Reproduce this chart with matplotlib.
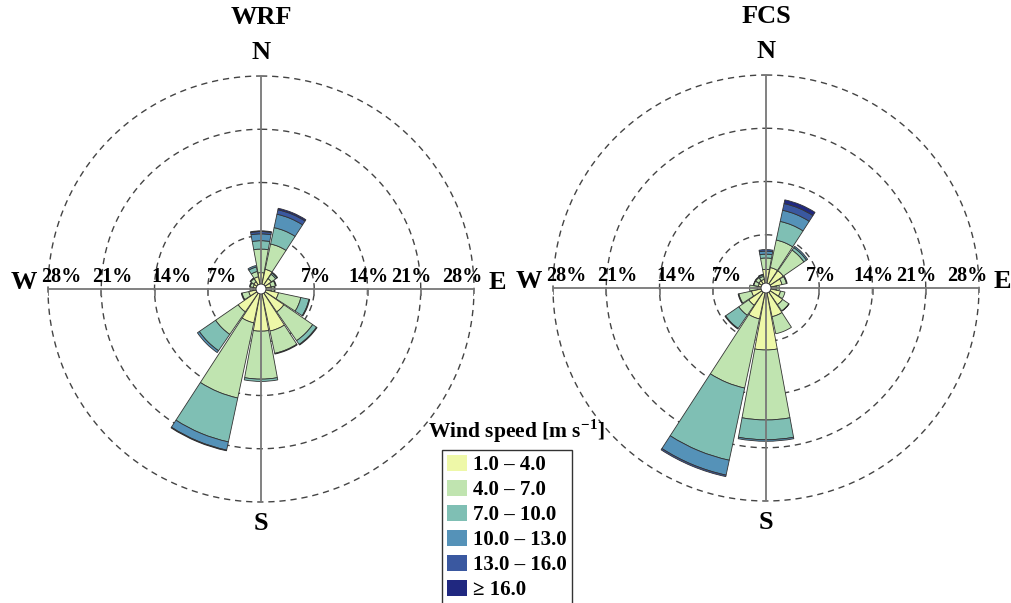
import numpy as np
import matplotlib
matplotlib.use("Agg")
import matplotlib.pyplot as plt
from matplotlib.patches import Patch

plt.rcParams['font.family'] = ['Liberation Serif', 'DejaVu Serif']
plt.rcParams['font.weight'] = 'bold'
plt.rcParams['mathtext.fontset'] = 'custom'
plt.rcParams['mathtext.rm'] = 'Liberation Serif:bold'
plt.rcParams['mathtext.bf'] = 'Liberation Serif:bold'

# 16 directions, clockwise from N
directions = ['N', 'NNE', 'NE', 'ENE', 'E', 'ESE', 'SE', 'SSE',
              'S', 'SSW', 'SW', 'WSW', 'W', 'WNW', 'NW', 'NNW']
speed_bins = ['1.0 – 4.0', '4.0 – 7.0', '7.0 – 10.0', '10.0 – 13.0',
              '13.0 – 16.0', '≥ 16.0']
colors = ['#eef8a8', '#c0e4b0', '#7fbfb4', '#5592b8', '#3a58a0', '#202880']

# frequency [%] per direction (rows) and speed class (columns)
wrf = np.array([
    [1.5, 3.1, 1.1, 0.9, 0.3, 0.1],
    [2.0, 3.4, 2.2, 1.8, 0.6, 0.2],
    [1.0, 0.7, 0.2, 0.1, 0.0, 0.0],
    [0.7, 0.6, 0.1, 0.0, 0.0, 0.0],
    [0.7, 0.4, 0.1, 0.0, 0.0, 0.0],
    [1.7, 3.0, 1.1, 0.1, 0.0, 0.0],
    [3.0, 4.6, 0.6, 0.1, 0.0, 0.0],
    [5.0, 3.0, 0.1, 0.0, 0.0, 0.0],
    [4.9, 6.3, 0.3, 0.0, 0.0, 0.0],
    [3.9, 10.1, 5.9, 1.1, 0.1, 0.0],
    [3.0, 3.6, 2.6, 0.3, 0.0, 0.0],
    [1.0, 0.9, 0.1, 0.0, 0.0, 0.0],
    [0.4, 0.4, 0.0, 0.0, 0.0, 0.0],
    [0.4, 0.4, 0.1, 0.0, 0.0, 0.0],
    [0.5, 0.5, 0.1, 0.0, 0.0, 0.0],
    [1.0, 0.7, 0.6, 0.2, 0.0, 0.0],
])
fcs = np.array([
    [1.8, 1.5, 0.5, 0.4, 0.2, 0.0],
    [2.1, 3.7, 2.5, 1.5, 0.9, 0.5],
    [2.1, 3.3, 0.4, 0.2, 0.0, 0.0],
    [1.5, 0.6, 0.1, 0.0, 0.0, 0.0],
    [0.7, 0.4, 0.0, 0.0, 0.0, 0.0],
    [1.3, 0.6, 0.0, 0.0, 0.0, 0.0],
    [2.0, 1.0, 0.05, 0.0, 0.0, 0.0],
    [3.2, 2.3, 0.0, 0.0, 0.0, 0.0],
    [7.5, 9.2, 2.6, 0.2, 0.0, 0.0],
    [3.5, 9.3, 9.7, 2.0, 0.2, 0.0],
    [2.1, 1.6, 2.1, 0.1, 0.0, 0.0],
    [1.3, 1.7, 0.1, 0.0, 0.0, 0.0],
    [0.5, 1.0, 0.0, 0.0, 0.0, 0.0],
    [0.4, 0.6, 0.05, 0.0, 0.0, 0.0],
    [0.5, 0.5, 0.1, 0.0, 0.0, 0.0],
    [0.5, 0.4, 0.2, 0.1, 0.0, 0.0],
])
rings = [7, 14, 21, 28]
# label x-positions along the W-E axis [%]
left_lab_pos = [-26.3, -19.6, -11.8, -5.1]
right_lab_pos = [7.2, 14.1, 19.7, 26.5]
hole = 0.65

fig = plt.figure(figsize=(10.11, 6.03), dpi=100)
W, H = 1011, 603
R = 213


def rose(cx, cy, data, title):
    rect = [(cx - R) / W, (H - cy - R) / H, 2 * R / W, 2 * R / H]
    ax = fig.add_axes(rect, polar=True)
    ax.set_theta_zero_location('N')
    ax.set_theta_direction(-1)
    ax.set_ylim(0, 28)
    ax.axis('off')
    theta = np.arange(16) * 2 * np.pi / 16
    width = 2 * np.pi / 16 * 0.93
    bottom = np.full(16, hole)
    for k in range(6):
        h = data[:, k]
        m = h > 0
        ax.bar(theta[m], h[m], width=width, bottom=bottom[m], color=colors[k],
               edgecolor='#333333', linewidth=0.6, zorder=3)
        bottom = bottom + h
    t = np.linspace(0, 2 * np.pi, 400)
    for r in rings:
        ax.plot(t, np.full_like(t, r), color='#444444', lw=1.0,
                ls=(0, (4.5, 3.5)), zorder=1, clip_on=False)

    # straight axes, ticks and labels
    ax2 = fig.add_axes(rect)
    ax2.set_xlim(-28, 28)
    ax2.set_ylim(-28, 28)
    ax2.axis('off')
    ax2.patch.set_alpha(0)
    ax2.plot([0, 0], [-28, 28], color='#777777', lw=1.3, zorder=2)
    ax2.plot([-28, 28], [0, 0], color='#777777', lw=1.3, zorder=2)
    for r in rings:
        for s in (-1, 1):
            ax2.plot([s * r, s * r], [0, -0.8], color='#777777', lw=1.3)
    for x, r in zip(left_lab_pos, rings[::-1]):
        ax2.text(x, 1.6, f'{r}%', ha='center', va='center', fontsize=14.5,
                 fontweight='bold')
    for x, r in zip(right_lab_pos, rings):
        ax2.text(x, 1.6, f'{r}%', ha='center', va='center', fontsize=14.5,
                 fontweight='bold')
    kw = dict(ha='center', va='center', fontsize=19, fontweight='bold',
              clip_on=False)
    ax2.text(0, 31.1, 'N', **kw)
    ax2.text(0, -30.8, 'S', **kw)
    ax2.text(-31.2, 0.9, 'W', **kw)
    ax2.text(31.0, 0.9, 'E', **kw)
    ax2.text(0, 35.7, title, **kw)
    ax2.add_patch(plt.Circle((0, 0), hole, facecolor='white',
                             edgecolor='#333333', lw=0.6, zorder=4))


rose(261, 289, wrf, 'WRF')
rose(766, 288, fcs, 'FCS')

handles = [Patch(facecolor=c, edgecolor='none') for c in colors]
leg = fig.legend(handles, speed_bins, loc='upper left',
                 bbox_to_anchor=(442 / W, 1 - 450 / H), fancybox=False,
                 edgecolor='#333333', framealpha=1,
                 prop={'size': 15, 'weight': 'bold'},
                 handlelength=0.96, handleheight=0.77, handletextpad=0.3,
                 labelspacing=0.24, borderpad=0.25, borderaxespad=0)
leg.get_frame().set_linewidth(1.0)
fig.text(516 / W, 1 - 431 / H, 'Wind speed [m s$^{-1}$]', ha='center',
         va='center', fontsize=15.5, fontweight='bold')

fig.savefig('out.png', dpi=100)
